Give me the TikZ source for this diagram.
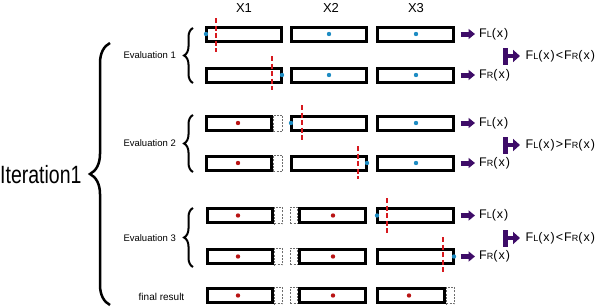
\documentclass[tikz,border=0pt]{standalone}
\usepackage{fontspec}
\setmainfont{Liberation Sans}
\newfontfamily\lab[LetterSpace=8]{Liberation Sans}
\usepackage{graphicx}
\usetikzlibrary{arrows.meta,decorations.pathreplacing}
\definecolor{arrpurple}{RGB}{62,12,104}
\definecolor{dotblue}{RGB}{30,140,195}
\definecolor{dotred}{RGB}{185,20,20}
\definecolor{cutred}{RGB}{215,25,30}
\definecolor{ghost}{RGB}{110,110,110}
\newcommand{\FLt}{F{\fontsize{9}{10}\selectfont L}(x)}
\newcommand{\FRt}{F{\fontsize{9}{10}\selectfont R}(x)}
\newcommand{\boxat}[4]{\node[solidbox, minimum width={#3-#2-3}] (#1) at ({(#2+#3)/2},#4) {};}
\newcommand{\ghostat}[4]{\node[ghostbox, minimum width={#3-#2-0.6}] (#1) at ({(#2+#3)/2},#4) {};}
\begin{document}
\begin{tikzpicture}[x=1pt,y=-1pt,
  solidbox/.style={draw=black, line width=3pt, fill=white, inner sep=0pt, minimum height=14pt},
  ghostbox/.style={draw=ghost, line width=0.6pt, dash pattern=on 2pt off 1.3pt, inner sep=0pt, minimum height=16.4pt},
  bdot/.style={circle, fill=dotblue, inner sep=0pt, minimum size=4.4pt},
  rdot/.style={circle, fill=dotred, inner sep=0pt, minimum size=4.4pt},
  cut/.style={draw=cutred, line width=2.6pt, dash pattern=on 5pt off 2.5pt},
  fatarrow/.style={draw=arrpurple, line width=5pt, -{Triangle[length=6.5pt,width=10pt]}, shorten <=5.5pt, shorten >=4pt},
  tbar/.style={fill=arrpurple, inner sep=0pt, minimum width=5pt, minimum height=17pt},
  tarrow/.style={draw=arrpurple, line width=4.5pt, -{Triangle[length=7pt,width=12pt]}, shorten >=5.5pt},
  flabel/.style={inner sep=0pt, anchor=west, font=\lab\fontsize{12.5}{14}\selectfont},
  hdr/.style={inner sep=0pt, font=\fontsize{13}{15}\selectfont},
  evlabel/.style={inner sep=0pt, font=\fontsize{9.5}{11}\selectfont},
  smallbrace/.style={decorate, decoration={brace, amplitude=9pt}, line width=2pt},
  bigbrace/.style={decorate, decoration={brace, amplitude=20pt}, line width=2.5pt}
]
\useasboundingbox (0,0) rectangle (600,308);
% column headers
\node[hdr] (X1) at (244,8) {X1};
\node[hdr] (X2) at (331,8) {X2};
\node[hdr] (X3) at (416,8) {X3};
% ---- Evaluation 1
\boxat{a1}{205}{283}{34} \boxat{a2}{290}{368}{34} \boxat{a3}{376}{455}{34}
\boxat{b1}{205}{283}{75} \boxat{b2}{290}{368}{75} \boxat{b3}{376}{455}{75}
\node[bdot] (da1) at (206,34) {};
\node[bdot] (da2) at (329,34) {};
\node[bdot] (da3) at (416,34) {};
\node[bdot] (db1) at (282,75) {};
\node[bdot] (db2) at (329,75) {};
\node[bdot] (db3) at (416,75) {};
\draw[cut] (216,18) -- (216,52);
\draw[cut] (272,56) -- (272,90);
% ---- Evaluation 2
\ghostat{c1g}{273}{283}{123} \boxat{c1}{205}{273}{123} \boxat{c2}{290}{368}{123} \boxat{c3}{376}{455}{123}
\ghostat{d1g}{273}{283}{163} \boxat{d1}{205}{273}{163} \boxat{d2}{290}{368}{163} \boxat{d3}{376}{455}{163}
\node[rdot] (dc1) at (238,123) {};
\node[bdot] (dc2) at (291,123) {};
\node[bdot] (dc3) at (416,123) {};
\node[rdot] (dd1) at (238,163) {};
\node[bdot] (dd2) at (367,163) {};
\node[bdot] (dd3) at (416,163) {};
\draw[cut] (302,105) -- (302,140);
\draw[cut] (358,146) -- (358,179);
% ---- Evaluation 3
\ghostat{e1g}{274}{283}{215.5} \ghostat{e2g}{290}{298}{215.5}
\boxat{e1}{206}{274}{215.5} \boxat{e2}{298}{367}{215.5} \boxat{e3}{376}{455}{215.5}
\ghostat{f1g}{274}{283}{256.5} \ghostat{f2g}{290}{298}{256.5}
\boxat{f1}{206}{274}{256.5} \boxat{f2}{298}{367}{256.5} \boxat{f3}{376}{455}{256.5}
\node[rdot] (de1) at (238,215.5) {};
\node[rdot] (de2) at (333,215.5) {};
\node[bdot] (de3) at (377,215.5) {};
\node[rdot] (df1) at (238,256.5) {};
\node[rdot] (df2) at (333,256.5) {};
\node[bdot] (df3) at (454,256.5) {};
\draw[cut] (387,198) -- (387,233);
\draw[cut] (443,237) -- (443,272);
% ---- final result
\ghostat{g1g}{274}{283}{295.5} \ghostat{g2g}{290}{298}{295.5} \ghostat{g3g}{446}{455}{295.5}
\boxat{g1}{206}{274}{295.5} \boxat{g2}{298}{367}{295.5} \boxat{g3}{376}{446}{295.5}
\node[rdot] (dg1) at (238,295.5) {};
\node[rdot] (dg2) at (333,295.5) {};
\node[rdot] (dg3) at (409,295.5) {};
% ---- result labels and arrows
\node[flabel] (la) at (479,34) {\FLt};
\node[flabel] (lb) at (479,75) {\FRt};
\node[flabel] (lc) at (479,123) {\FLt};
\node[flabel] (ld) at (479,163) {\FRt};
\node[flabel] (le) at (479,215.5) {\FLt};
\node[flabel] (lf) at (479,256.5) {\FRt};
\draw[fatarrow] (a3) -- (la);
\draw[fatarrow] (b3) -- (lb);
\draw[fatarrow] (c3) -- (lc);
\draw[fatarrow] (d3) -- (ld);
\draw[fatarrow] (e3) -- (le);
\draw[fatarrow] (f3) -- (lf);
% ---- comparisons
\node[tbar] (t1) at (505.5,56) {};
\node[flabel] (cmp1) at (525.5,56) {\FLt<\FRt};
\draw[tarrow] (t1) -- (cmp1);
\node[tbar] (t2) at (505.5,145) {};
\node[flabel] (cmp2) at (525.5,145) {\FLt>\FRt};
\draw[tarrow] (t2) -- (cmp2);
\node[tbar] (t3) at (505.5,238) {};
\node[flabel] (cmp3) at (525.5,238) {\FLt<\FRt};
\draw[tarrow] (t3) -- (cmp3);
% ---- left labels and braces
\node[evlabel, anchor=east] (ev1) at (176,55.5) {Evaluation 1};
\node[evlabel, anchor=east] (ev2) at (176,143) {Evaluation 2};
\node[evlabel, anchor=east] (ev3) at (176,238) {Evaluation 3};
\node[evlabel, font=\fontsize{10}{12}\selectfont] (fin) at (161.5,297) {final result};
\draw[smallbrace] (193,83) -- (193,28);
\draw[smallbrace] (193,172) -- (193,115);
\draw[smallbrace] (193,267) -- (193,208);
\draw[bigbrace] (110,305) -- (110,43);
\node[inner sep=0pt, anchor=west] (iter) at (0,175) {\scalebox{0.78}[1]{\fontsize{25}{28}\selectfont Iteration1}};
\end{tikzpicture}
\end{document}
